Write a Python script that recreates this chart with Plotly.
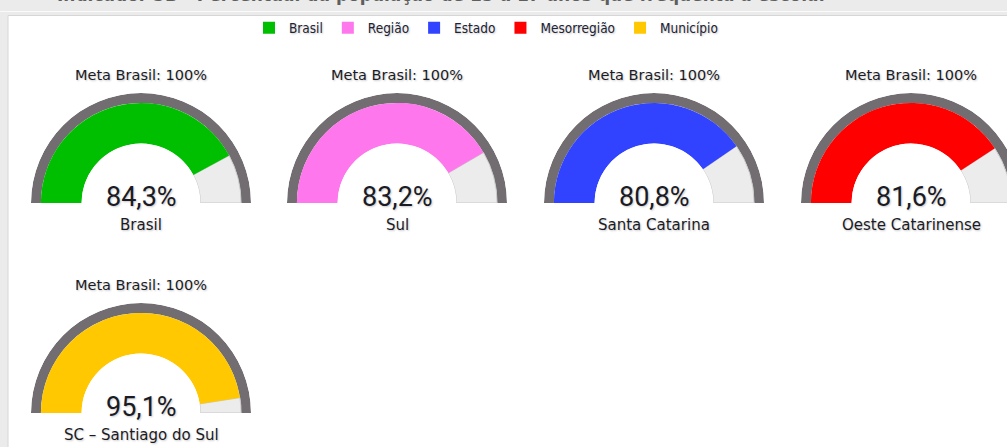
import plotly.graph_objects as go

# ---------------- data ----------------
categories = ["Brasil", "Região", "Estado", "Mesorregião", "Município"]
places = ["Brasil", "Sul", "Santa Catarina", "Oeste Catarinense", "SC – Santiago do Sul"]
values = [84.3, 83.2, 80.8, 81.6, 95.1]
goal = 100
goal_label = "Meta Brasil: 100%"
colors = ["#00bf00", "#ff77ec", "#3143ff", "#ff0000", "#ffc800"]
header = "Indicador 3B - Percentual da população de 15 a 17 anos que frequenta a escola."

# ---------------- layout geometry ----------------
W, H = 1030, 447             # figure wider than the 1007px window: last gauge is cut, as in the source
R = 110                      # outer radius in px
col_x = [141, 397, 654, 911]  # gauge centres
row_y = [203, 413]            # gauge baselines
HOLE = 0.54                  # inner radius fraction
BAND = 0.91                  # outer edge of value band

ring_color = "#726d71"
rest_color = "#ececec"
text_color = "#1b1b26"
FONT = "DejaVu Sans, Verdana, sans-serif"
shadow = "1px 1px 2px rgba(0,0,0,0.22)"

fig = go.Figure()
annotations = []

for i, (cat, place, v, c) in enumerate(zip(categories, places, values, colors)):
    row, col = divmod(i, 4)
    cx, by = col_x[col], row_y[row]
    sub = "polar" if i == 0 else f"polar{i + 1}"
    deg = v / goal * 180.0

    # outer ring
    fig.add_trace(go.Barpolar(
        theta=[90], width=[180], base=[BAND], r=[1 - BAND],
        marker=dict(color=ring_color, line=dict(width=0)),
        subplot=sub, showlegend=False, hoverinfo="skip"))
    # remainder
    fig.add_trace(go.Barpolar(
        theta=[(deg + 180) / 2], width=[180 - deg], base=[HOLE], r=[BAND - HOLE],
        marker=dict(color=rest_color, line=dict(color="#c9c9c9", width=1)),
        subplot=sub, showlegend=False, hoverinfo="skip"))
    # value
    fig.add_trace(go.Barpolar(
        theta=[deg / 2], width=[deg], base=[HOLE], r=[BAND - HOLE],
        marker=dict(color=c, line=dict(width=0)),
        name=cat, subplot=sub, showlegend=True, hoverinfo="skip"))

    fig.update_layout(**{sub: dict(
        domain=dict(x=[(cx - R) / W, (cx + R) / W], y=[1 - by / H, 1 - (by - R) / H]),
        sector=[0, 180], hole=HOLE, bgcolor="rgba(0,0,0,0)",
        radialaxis=dict(range=[HOLE, 1], visible=False),
        angularaxis=dict(visible=False, rotation=180, direction="clockwise"),
    )})

    annotations.append(dict(x=cx / W, y=1 - (by - 128) / H, xref="paper", yref="paper",
                            text=goal_label, showarrow=False, xanchor="center", yanchor="middle",
                            font=dict(family=FONT, size=14.5, color=text_color, shadow=shadow)))
    annotations.append(dict(x=cx / W, y=1 - (by - 6) / H, xref="paper", yref="paper",
                            text=f"{v:.1f}".replace(".", ",") + "%", showarrow=False,
                            xanchor="center", yanchor="middle",
                            font=dict(family="Roboto, sans-serif", size=27, color=text_color, shadow=shadow)))
    annotations.append(dict(x=cx / W, y=1 - (by + 22) / H, xref="paper", yref="paper",
                            text=place, showarrow=False, xanchor="center", yanchor="middle",
                            font=dict(family=FONT, size=15, color=text_color, shadow=shadow)))

annotations.append(dict(x=55 / W, y=1 - 7 / H, xref="paper", yref="paper", text=f"<b>{header}</b>",
                        showarrow=False, xanchor="left", yanchor="bottom",
                        font=dict(family=FONT, size=17, color="#5e5e5e")))

shapes = [
    dict(type="rect", xref="paper", yref="paper", x0=8 / W, x1=1.05, y0=-0.05, y1=1 - 15.5 / H,
         fillcolor="white", line=dict(color="#d6d6d6", width=1), layer="below"),
    dict(type="line", xref="paper", yref="paper", x0=0, x1=1, y0=1 - 11.5 / H, y1=1 - 11.5 / H,
         line=dict(color="#fafafa", width=1), layer="below"),
]

fig.update_layout(
    width=W, height=H, margin=dict(l=0, r=0, t=0, b=0),
    paper_bgcolor="#ebebeb", plot_bgcolor="#ebebeb",
    showlegend=True,
    legend=dict(orientation="h", x=249 / W, xanchor="left", y=1 - 28 / H, yanchor="middle",
                bgcolor="rgba(0,0,0,0)", itemwidth=30, traceorder="normal",
                font=dict(family="Liberation Sans Narrow, DejaVu Sans Condensed, sans-serif",
                          size=13.5, color="#222233", shadow=shadow)),
    annotations=annotations, shapes=shapes,
)

page_fix = ("document.body.style.margin='0';"
            "document.body.style.overflow='hidden';"
            "document.documentElement.style.overflow='hidden';")
fig.write_html("out.html", post_script=page_fix, config=dict(displayModeBar=False))
